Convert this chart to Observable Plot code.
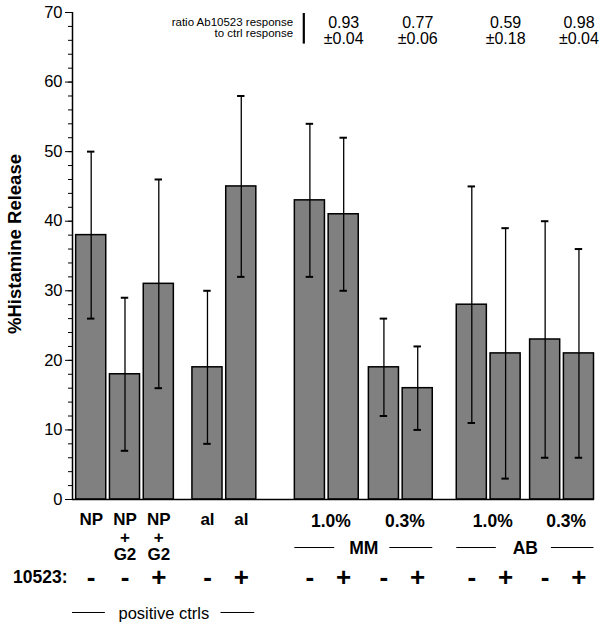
<!DOCTYPE html>
<html><head><meta charset="utf-8">
<script src="https://cdn.jsdelivr.net/npm/d3@7"></script>
<script src="https://cdn.jsdelivr.net/npm/@observablehq/plot@0.6"></script>
<style>body{margin:0;background:#fff;}</style>
</head><body><div id="chart"></div>
<script>
// ---------- data ----------
const barGroup = ["NP","NP","NP","al","al","MM 1.0%","MM 1.0%","MM 0.3%","MM 0.3%","AB 1.0%","AB 1.0%","AB 0.3%","AB 0.3%"];
const barLabels = ["NP","NP\n+\nG2","NP\n+\nG2","al","al","","","","","","","",""];
const treatment = ["-","-","+","-","+","-","+","-","+","-","+","-","+"];
const values = [38,18,31,19,45,43,41,19,16,28,21,23,21];
const errLow = [26,7,16,8,32,32,30,12,10,11,3,6,6];
const errHigh = [50,29,46,30,58,54,52,26,22,45,39,40,36];
const concGroups = ["MM 1.0%","MM 0.3%","AB 1.0%","AB 0.3%"];
const concLabels = ["1.0%","0.3%","1.0%","0.3%"];
const concAntibody = ["MM","MM","AB","AB"];
const ratioValues = ["0.93","0.77","0.59","0.98"];
const ratioErrors = ["±0.04","±0.06","±0.18","±0.04"];
const antibodies = ["MM","AB"];
const ctrlGroups = ["NP","al"];
const ctrlLabel = "positive ctrls";
const treatmentLabel = "10523:";
const ratioTitle = "ratio Ab10523 response\nto ctrl response";
const yLabel = "%Histamine Release";
const yTicks = [0,10,20,30,40,50,60,70];

// ---------- layout ----------
const groupGap = {"NP":0,"al":0.44,"MM 1.0%":1.03,"MM 0.3%":0.19,"AB 1.0%":0.6,"AB 0.3%":0.17};
const half = 0.445;
let cum = 0, prev = null;
const bars = values.map((v, i) => {
  if (barGroup[i] !== prev) { cum += groupGap[barGroup[i]]; prev = barGroup[i]; }
  return {u: i + cum, value: v, lo: errLow[i], hi: errHigh[i], label: barLabels[i], sign: treatment[i], group: barGroup[i]};
});
const xDomain = [-0.553, 14.89];
const yMax = d3.max(yTicks);
const conc = concGroups.map((g, i) => {
  const bs = bars.filter(b => b.group === g);
  return {mid: d3.mean(bs, b => b.u), plus: bs.find(b => b.sign === "+").u,
          label: concLabels[i], ratio: ratioValues[i] + "\n" + ratioErrors[i]};
});
const abs = antibodies.map(a => {
  const gs = concGroups.filter((g, i) => concAntibody[i] === a);
  const bs = bars.filter(b => gs.includes(b.group));
  const first = bs[0].u, last = bs[bs.length - 1].u;
  return {label: a, mid: (first + last) / 2, first, last};
});
const ctrlBars = bars.filter(b => ctrlGroups.includes(b.group));
const ctrl = {mid: (ctrlBars[0].u + ctrlBars[ctrlBars.length - 1].u) / 2 - 0.07,
              last: ctrlBars[ctrlBars.length - 1].u};
const firstMM = bars.find(b => b.group === concGroups[0]).u;
const atZero = () => 0;
const atTop = () => yMax;

const bold = {fontWeight: "bold", fill: "black"};
const lab = 17.5;

const chart = Plot.plot({
  width: 603, height: 627,
  marginLeft: 72, marginRight: 9, marginTop: 12, marginBottom: 128,
  style: {fontFamily: "'Liberation Sans', Arial, Helvetica, sans-serif", fontSize: "16.5px", background: "#fff", color: "black"},
  x: {domain: xDomain, axis: null},
  y: {domain: [0, yMax], axis: null},
  marks: [
    // bars
    Plot.rectY(bars, {x1: d => d.u - half, x2: d => d.u + half, y: "value", fill: "#808080", stroke: "black", strokeWidth: 1.5}),
    // error bars
    Plot.ruleX(bars, {x: "u", y1: "lo", y2: "hi", stroke: "black", strokeWidth: 1.3}),
    Plot.ruleY(bars, {y: "hi", x1: d => d.u - 0.11, x2: d => d.u + 0.11, stroke: "black", strokeWidth: 2}),
    Plot.ruleY(bars, {y: "lo", x1: d => d.u - 0.11, x2: d => d.u + 0.11, stroke: "black", strokeWidth: 2}),
    // axes
    Plot.axisY({ticks: d3.range(0, yMax + 1, 2), tickSize: 4, tickFormat: () => "", label: null}),
    Plot.axisY({ticks: yTicks, tickSize: 7, tickPadding: 3, fontSize: 16.5, label: null}),
    Plot.ruleX([xDomain[0]], {y1: 0, y2: yMax, stroke: "black", strokeWidth: 1.5}),
    Plot.ruleY([0], {stroke: "black", strokeWidth: 1.5}),
    // y label
    Plot.text([yLabel], {frameAnchor: "left", textAnchor: "middle", text: d => d, rotate: -90, dx: -57, dy: -12, fontSize: 18.5, ...bold}),
    // bar labels
    Plot.text(bars, {x: "u", y: atZero, text: "label", lineAnchor: "top", dy: 12.5, fontSize: 17, lineHeight: 1.05, ...bold}),
    // concentration labels
    Plot.text(conc, {x: d => d.mid + 0.12, y: atZero, text: "label", dy: 22, fontSize: lab, ...bold}),
    // antibody labels and lines
    Plot.text(abs, {x: "mid", y: atZero, text: "label", dy: 49, fontSize: lab, ...bold}),
    Plot.ruleY(abs, {y: atZero, x1: d => d.first - half, x2: d => d.mid - 0.86, dy: 48, stroke: "black", strokeWidth: 1}),
    Plot.ruleY(abs, {y: atZero, x1: d => d.mid + 0.77, x2: d => d.last + half, dy: 48, stroke: "black", strokeWidth: 1}),
    // treatment signs
    Plot.text([treatmentLabel], {x: xDomain[0], y: atZero, text: d => d, textAnchor: "end", dx: -5, dy: 78, fontSize: lab, ...bold}),
    Plot.text(bars, {x: "u", y: atZero, text: "sign", dy: 78, fontSize: 26, ...bold}),
    // positive ctrls
    Plot.text([ctrlLabel], {x: ctrl.mid, y: atZero, text: d => d, dy: 114, fontSize: 16.5, fill: "black"}),
    Plot.ruleY([ctrl], {y: atZero, x1: xDomain[0], x2: d => d.mid - 1.73, dy: 113, stroke: "black", strokeWidth: 1}),
    Plot.ruleY([ctrl], {y: atZero, x1: d => d.mid + 1.69, x2: d => d.last + 0.4, dy: 113, stroke: "black", strokeWidth: 1}),
    // ratio annotation
    Plot.text([ratioTitle], {x: firstMM - half - 0.05, y: atTop, text: d => d, textAnchor: "end", lineAnchor: "top", dy: 5, fontSize: 11.5, lineHeight: 1.0, fill: "black"}),
    Plot.ruleX([firstMM - 0.18], {y1: yMax, y2: yMax - 4.4, dy: 1, stroke: "black", strokeWidth: 2.2}),
    Plot.text(conc, {x: "plus", y: atTop, text: "ratio", lineAnchor: "top", dy: 4.5, fontSize: 16, lineHeight: 1.0, fill: "black"})
  ]
});
document.getElementById("chart").appendChild(chart);
</script>
</body></html>
